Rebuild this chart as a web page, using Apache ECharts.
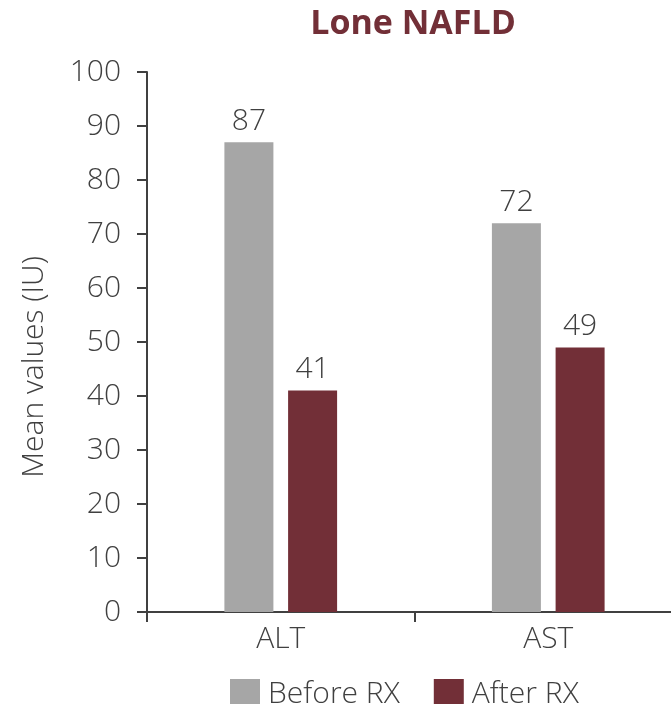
<!DOCTYPE html>
<html>
<head>
<meta charset="utf-8">
<script src="https://cdn.jsdelivr.net/npm/echarts@6/dist/echarts.min.js"></script>
<style>
  html, body { margin: 0; padding: 0; background: #ffffff; }
  #chart { width: 671px; height: 704px; }
</style>
</head>
<body>
<div id="chart"></div>
<script>
// Liver enzyme means before and after treatment
const categories = ['ALT', 'AST'];
const beforeRx = [87, 72];
const afterRx = [41, 49];
const seriesNames = ['Before RX', 'After RX'];

const FONT = '"Open Sans", Lato, sans-serif';
const TEXT = '#404040';
const W = 300;
const FS = 30;

const chart = echarts.init(document.getElementById('chart'), null, { renderer: 'canvas' });

const labelStyle = {
  show: true,
  position: 'top',
  distance: 6,
  color: TEXT,
  fontFamily: FONT,
  fontWeight: W,
  fontSize: FS
};

chart.setOption({
  animation: false,
  backgroundColor: '#ffffff',
  title: {
    text: 'Lone NAFLD',
    left: 408,
    textAlign: 'center',
    top: 2,
    textStyle: { color: '#722f37', fontFamily: FONT, fontWeight: 'bold', fontSize: 34 }
  },
  legend: {
    data: seriesNames,
    left: 225,
    top: 674,
    itemWidth: 30,
    itemHeight: 30,
    itemGap: 34,
    icon: 'rect',
    textStyle: { color: TEXT, fontFamily: FONT, fontWeight: W, fontSize: FS, padding: [0, 0, 0, 3] }
  },
  grid: { left: 147, right: -11, top: 72, bottom: 92, outerBoundsMode: 'none', containLabel: false },
  xAxis: {
    type: 'category',
    data: categories,
    axisLine: { lineStyle: { color: TEXT, width: 2 } },
    axisTick: { show: true, length: 10, lineStyle: { color: TEXT, width: 2 } },
    axisLabel: { color: TEXT, fontFamily: FONT, fontWeight: W, fontSize: FS, margin: 12 }
  },
  yAxis: {
    type: 'value',
    min: 0,
    max: 100,
    interval: 10,
    name: 'Mean values (IU)',
    nameLocation: 'middle',
    nameGap: 98,
    nameTextStyle: { color: TEXT, fontFamily: FONT, fontWeight: W, fontSize: FS, padding: [0, 50, 0, 0] },
    axisLine: { show: true, lineStyle: { color: TEXT, width: 2 } },
    axisTick: { show: true, length: 10, lineStyle: { color: TEXT, width: 2 } },
    axisLabel: { color: TEXT, fontFamily: FONT, fontWeight: W, fontSize: FS, margin: 26 },
    splitLine: { show: false }
  },
  series: [
    {
      name: seriesNames[0],
      type: 'bar',
      data: beforeRx,
      barWidth: 49,
      barGap: '30%',
      itemStyle: { color: '#a6a6a6' },
      label: labelStyle
    },
    {
      name: seriesNames[1],
      type: 'bar',
      data: afterRx,
      barWidth: 49,
      barGap: '30%',
      itemStyle: { color: '#722f37' },
      label: labelStyle
    }
  ]
});
</script>
</body>
</html>
